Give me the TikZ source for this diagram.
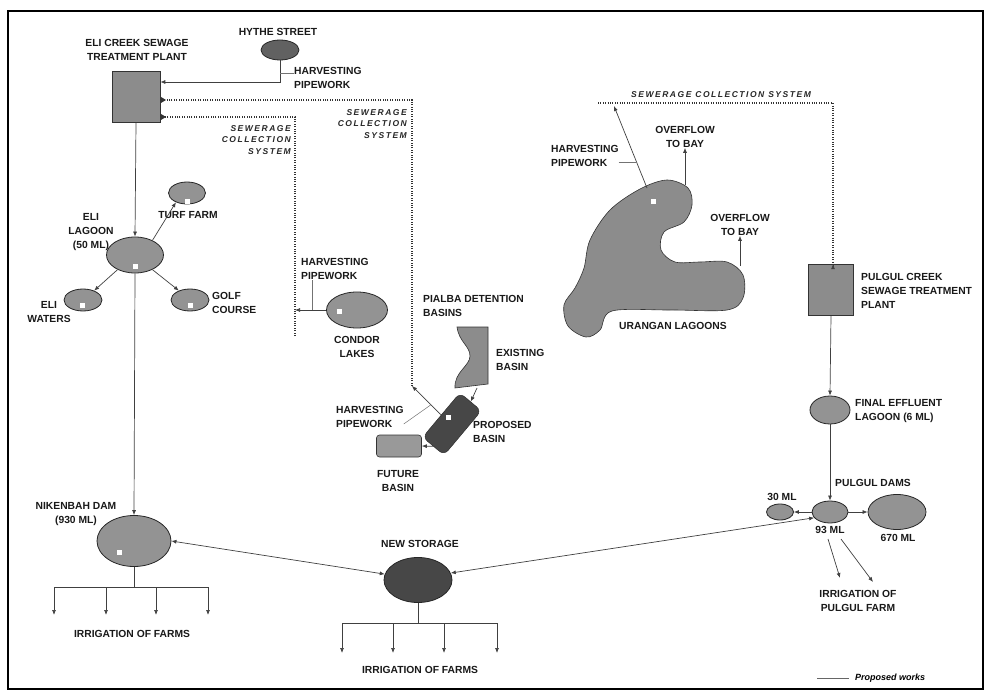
\documentclass[tikz,border=0pt]{standalone}
\usepackage{fontspec}
\setmainfont{Liberation Sans}
\newfontfamily\sewfont[LetterSpace=18]{Liberation Sans}
\usetikzlibrary{shapes.geometric,arrows.meta,calc}

\begin{document}
\begin{tikzpicture}
            [x=1pt,y=-1pt,every node/.style={inner sep=0pt},
            lbl/.style={font=\bfseries\fontsize{10.3}{14}\selectfont,align=center,text=black!90},
            sew/.style={font=\sewfont\bfseries\itshape\fontsize{8.5}{11.5}\selectfont,align=right,text=black!85},
            pond/.style={ellipse,draw=black!85,line width=0.8pt,fill=gray!85},
            dpond/.style={pond,fill=black!72},
            stp/.style={draw=gray!40!black,fill=gray!90,line width=0.6pt},
            flow/.style={draw=black!75,line width=0.7pt,-{Latex[length=5pt,width=4pt]}},
            twoway/.style={flow,{Latex[length=5pt,width=4pt]}-{Latex[length=5pt,width=4pt]}},
            sewer/.style={draw=black!80,line width=1.3pt,dash pattern=on 1pt off 1.4pt},
            lead/.style={draw=black!55,line width=0.5pt}]
            \useasboundingbox (0,0) rectangle (989,690);
            \draw[line width=2.5pt] (8,11) rectangle (983,689);

            % Eli Creek plant and its ponds
            \node[lbl] (plantlbl) at (137,50) {ELI CREEK SEWAGE\\TREATMENT PLANT};
            \node[stp,minimum width=48pt,minimum height=51pt] (plant) at (136,97) {};
            \node[lbl] (hythelbl) at (278,32) {HYTHE STREET};
            \node[pond,fill=black!62,minimum width=38pt,minimum height=20pt] (hythe) at (280,50) {};
            \node[lbl,align=left,anchor=west] (harv1) at (294,78) {HARVESTING\\PIPEWORK};
            \coordinate (hbend) at (280,82);
            \coordinate (hleg) at (280,73);
            \node[pond,minimum width=57pt,minimum height=36pt] (elilag) at (135,255) {};
            \node[lbl] (elilbl) at (91,232) {ELI\\LAGOON\\(50 ML)};
            \node[pond,minimum width=37pt,minimum height=22pt] (turf) at (187,193) {};
            \node[lbl] (turflbl) at (188,215) {TURF FARM};
            \node[pond,minimum width=38pt,minimum height=22pt] (eliwat) at (83,300) {};
            \node[lbl] (eliwatlbl) at (49,312) {ELI\\WATERS};
            \node[pond,minimum width=38pt,minimum height=22pt] (golf) at (190,300) {};
            \node[lbl,align=left,anchor=west] (golflbl) at (212,303) {GOLF\\COURSE};
            \node[pond,minimum width=74pt,minimum height=51pt] (nik) at (134,541) {};
            \node[lbl] (niklbl) at (76,514) {NIKENBAH DAM\\(930 ML)};

            % sewerage lines
            \node[sew,anchor=east] (sew1) at (291,140) {SEWERAGE\\COLLECTION\\SYSTEM};
            \node[sew,anchor=east] (sew2) at (407,124) {SEWERAGE\\COLLECTION\\SYSTEM};
            \node[sew] (sew3) at (721,95) {SEWERAGE COLLECTION SYSTEM};
            \coordinate (s1a) at (295,117);
            \coordinate (s1b) at (295,336);
            \coordinate (s2a) at (412,100);
            \coordinate (s2b) at (412,386);
            \coordinate (s3a) at (598,103);
            \coordinate (s3b) at (833,103);
            \draw[sewer] (s1b) -- (s1a) -- (plant.east |- s1a);
            \draw[sewer] (s2b) -- (s2a) -- (plant.east |- s2a);
            \draw[sewer] (s3a) -- (s3b) -- (833,265);
            \foreach \y in {100,117}
                \fill[black!80] (161,\y-3) -- (166,\y) -- (161,\y+3) -- cycle;

            % Condor Lakes
            \node[pond,minimum width=61pt,minimum height=36pt] (condor) at (357,310) {};
            \node[lbl] (condorlbl) at (357,347) {CONDOR\\LAKES};
            \node[lbl,align=left,anchor=west] (harv2) at (301,269) {HARVESTING\\PIPEWORK};
            \coordinate (cpipe) at (312,310);

            % Pialba detention basins
            \node[lbl,align=left,anchor=west] (pialbalbl) at (423,306) {PIALBA DETENTION\\BASINS};
            \draw[stp] (457,327) -- (488,327) -- (488,384) -- (455,388)
                .. controls (454,372) and (470,366) .. (470,356)
                .. controls (470,346) and (459,342) .. cycle;
            \coordinate (exist) at (477,388);
            \node[lbl,align=left,anchor=west] (existlbl) at (496,360) {EXISTING\\BASIN};
            \node[rectangle,rounded corners=6pt,rotate=50,minimum width=58pt,minimum height=28pt,
                draw=black!85,fill=black!72] (prop) at (452,424) {};
            \node[lbl,align=left,anchor=west] (proplbl) at (473,432) {PROPOSED\\BASIN};
            \node[stp,fill=gray!80,rectangle,rounded corners=3pt,minimum width=45pt,minimum height=22pt] (future) at (399,446) {};
            \node[lbl] (futurelbl) at (398,481) {FUTURE\\BASIN};
            \node[lbl,align=left,anchor=west] (harv3) at (336,417) {HARVESTING\\PIPEWORK};

            % Urangan lagoons
            \draw[stp] plot[smooth cycle,tension=0.55] coordinates {
                (667,180) (688,188) (692,205) (684,222) (664,232) (661,250) (675,262)
                (700,262) (727,262) (743,275) (743,298) (727,310) (670,310) (612,311)
                (600,330) (586,337) (568,326) (564,305) (575,288) (584,268) (590,240)
                (610,210) (640,189)};
            \node[lbl] (uranganlbl) at (673,326) {URANGAN LAGOONS};
            \node[lbl] (over1) at (685,137) {OVERFLOW\\TO BAY};
            \node[lbl] (over2) at (740,225) {OVERFLOW\\TO BAY};
            \coordinate (ur1) at (685,185);
            \coordinate (ur2) at (740,266);
            \coordinate (urh) at (647,188);
            \coordinate (urtip) at (614,106);
            \node[lbl,align=left,anchor=west] (harv4) at (551,156) {HARVESTING\\PIPEWORK};

            % Pulgul Creek plant and dams
            \node[stp,minimum width=45pt,minimum height=51pt] (pplant) at (831,290) {};
            \node[lbl,align=left,anchor=west] (pplantlbl) at (861,291) {PULGUL CREEK\\SEWAGE TREATMENT\\PLANT};
            \node[pond,minimum width=40pt,minimum height=28pt] (final) at (830,410) {};
            \node[lbl,align=left,anchor=west] (finallbl) at (855,411) {FINAL EFFLUENT\\LAGOON (6 ML)};
            \node[lbl] (pdamslbl) at (873,483) {PULGUL DAMS};
            \node[pond,minimum width=27pt,minimum height=16pt] (p30) at (780,512) {};
            \node[lbl] (p30lbl) at (782,497) {30 ML};
            \node[pond,minimum width=36pt,minimum height=22pt] (p93) at (830,512) {};
            \node[lbl] (p93lbl) at (830,530) {93 ML};
            \node[pond,minimum width=58pt,minimum height=35pt] (p670) at (897,512) {};
            \node[lbl] (p670lbl) at (898,538) {670 ML};
            \node[lbl] (pirrlbl) at (858,601) {IRRIGATION OF\\PULGUL FARM};
            \coordinate (pa) at (828,539);
            \coordinate (pb) at (841,539);

            % new storage
            \node[lbl] (nslbl) at (420,544) {NEW STORAGE};
            \node[dpond,minimum width=68pt,minimum height=45pt] (ns) at (418,580) {};

            % white spots
            \foreach \x/\y in {135/266,187/202,82/305,190/305,119/552,339/311,448/417,653/202}
                \fill[white] (\x-2.5,\y-2.5) rectangle (\x+2.5,\y+2.5);

            % flows
            \draw[flow] (hythe.south) -- (hbend) -- (plant.east |- hbend);
            \draw[lead] (hleg) -- (harv1.west |- hleg);
            \draw[flow] (plant.south) -- (elilag.north);
            \draw[flow] (elilag.40) -- (turf.220);
            \draw[flow] (elilag.220) -- (eliwat.40);
            \draw[flow] (elilag.320) -- (golf.140);
            \draw[flow] (elilag.south) -- (nik.north);
            \draw[flow] (condor.west) -- (s1a |- condor.west);
            \draw[lead] (harv2.south -| cpipe) -- (cpipe);
            \draw[flow] (exist) -- (prop.east);
            \draw[flow] (prop.west) -- (future.east);
            \draw[flow] (prop.north) -- (s2b);
            \draw[lead] (harv3.east |- 0,424) -- ($(prop.north)!0.35!(s2b)$);
            \draw[flow] (ur1) -- (over1.south);
            \draw[flow] (ur2) -- (over2.south);
            \draw[flow] (urh) -- (urtip);
            \draw[lead] (harv4.east |- 0,162) -- (637,162);
            \draw[flow] (833,265) -- (pplant.north -| 833,0);
            \draw[flow] (pplant.south) -- (final.north);
            \draw[flow] (final.south) -- (p93.north);
            \draw[flow] (p93.west) -- (p30.east);
            \draw[flow] (p93.east) -- (p670.west);
            \draw[flow] (pa) -- (840,578);
            \draw[flow] (pb) -- (873,582);
            \draw[twoway] (nik.east) -- (ns.170);
            \draw[twoway] (ns.12) -- (p93.200);

            % irrigation of farms
            \draw[flow,-] (nik.south) -- (134,587);
            \draw[flow,-] (54,587) -- (208,587);
            \foreach \x in {54,106,156,208}
                \draw[flow] (\x,587) -- (\x,615);
            \node[lbl] (irr1) at (132,634) {IRRIGATION OF FARMS};
            \draw[flow,-] (ns.south) -- (418,623);
            \draw[flow,-] (342,623) -- (497,623);
            \foreach \x in {342,393,444,497}
                \draw[flow] (\x,623) -- (\x,653);
            \node[lbl] (irr2) at (420,670) {IRRIGATION OF FARMS};

            % legend
            \node[font=\bfseries\itshape\fontsize{9}{11}\selectfont,anchor=west] (legend) at (855,678) {Proposed works};
            \draw[black!60,line width=0.8pt] (legend.west) ++(-6,0) -- ++(-32,0);
        \end{tikzpicture}
\end{document}
